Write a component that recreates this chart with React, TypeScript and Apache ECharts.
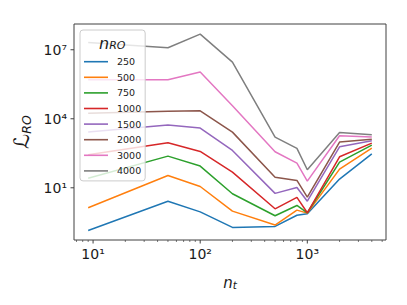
import React, { useEffect, useRef } from 'react';
import * as echarts from 'echarts';

const nt = [9, 50, 100, 200, 500, 800, 1000, 2000, 4000];
const nRO = ['250', '500', '750', '1000', '1500', '2000', '3000', '4000'];
const L250 = [0.14, 2.6, 0.9, 0.19, 0.21, 0.64, 0.74, 24, 300];
const L500 = [1.35, 34, 11.4, 0.97, 0.24, 1.07, 0.79, 65, 530];
const L750 = [26, 238, 88, 5.5, 0.61, 1.7, 0.82, 131, 716];
const L1000 = [272, 906, 380, 48, 1.22, 3.8, 0.82, 223, 875];
const L1500 = [2630, 5300, 3930, 420, 5.7, 10.3, 2.6, 607, 1100];
const L2000 = [17600, 21500, 22300, 2630, 29, 20.8, 3.9, 968, 1300];
const L3000 = [4.97e5, 4.97e5, 1.07e6, 36700, 367, 118, 19.5, 1820, 1600];
const L4000 = [2.08e7, 1.22e7, 4.8e7, 2.9e6, 1600, 513, 61, 2550, 2010];
const seriesValues = [L250, L500, L750, L1000, L1500, L2000, L3000, L4000];
const colors = ['#1f77b4', '#ff7f0e', '#2ca02c', '#d62728', '#9467bd', '#8c564b', '#e377c2', '#7f7f7f'];

const xMajorTicks = [10, 100, 1000];
const xMinorTicks = [7, 8, 9, 20, 30, 40, 50, 60, 70, 80, 90, 200, 300, 400, 500, 600, 700, 800, 900, 2000, 3000, 4000, 5000];
const yMajorTicks = [10, 1e4, 1e7];
const xMin = Math.pow(10, 0.8219);
const xMax = Math.pow(10, 3.7346);
const yMin = Math.pow(10, -1.27);
const yMax = Math.pow(10, 8.12);

const SUP: Record<string, string> = { '0': '⁰', '1': '¹', '2': '²', '3': '³', '4': '⁴', '5': '⁵', '6': '⁶', '7': '⁷', '8': '⁸', '9': '⁹', '-': '⁻' };
const powLabel = (v: number, allowed: number[]) => {
  const l = Math.log10(v);
  const e = Math.round(l);
  if (Math.abs(l - e) > 1e-6) return '';
  if (!allowed.some((a) => Math.abs(Math.log10(a) - e) < 1e-6)) return '';
  return '10' + String(e).split('').map((c) => SUP[c]).join('');
};

const FONT = 'DejaVu Sans';
const FRAME = '#404040';

export default function App() {
  const ref = useRef<HTMLDivElement>(null);
  useEffect(() => {
    if (!ref.current) return;
    document.body.style.margin = '0';
    const chart = echarts.init(ref.current, null, { renderer: 'svg' });
    const lineSeries = nRO.map((name, i) => ({
      name,
      type: 'line',
      data: nt.map((x, j) => [x, seriesValues[i][j]]),
      symbol: 'none',
      lineStyle: { color: colors[i], width: 1.5 },
      itemStyle: { color: colors[i] },
      z: 2,
    }));
    const xTickData = [
      ...xMajorTicks.map((v) => [v, 3.5]),
      ...xMinorTicks.map((v) => [v, 2]),
    ];
    const yTickData = yMajorTicks.map((v) => [3.5, v]);
    chart.setOption({
      animation: false,
      grid: { left: 74, top: 24, width: 312, height: 216, show: true, borderColor: FRAME, borderWidth: 1, backgroundColor: 'transparent' },
      xAxis: {
        type: 'log',
        min: xMin,
        max: xMax,
        splitNumber: 5,
        axisLine: { show: false },
        axisTick: { show: false },
        splitLine: { show: false },
        axisLabel: {
          formatter: (v: number) => powLabel(v, xMajorTicks),
          fontFamily: FONT,
          fontSize: 14,
          color: '#1a1a1a',
          margin: 7,
          showMinLabel: false,
          showMaxLabel: false,
        },
        name: '{n|n}{s|t}',
        nameLocation: 'middle',
        nameGap: 35,
        nameTextStyle: {
          rich: {
            n: { fontFamily: FONT, fontStyle: 'italic', fontSize: 15, color: '#1a1a1a' },
            s: { fontFamily: FONT, fontStyle: 'italic', fontSize: 10.5, color: '#1a1a1a', verticalAlign: 'bottom' },
          },
        },
      },
      yAxis: {
        type: 'log',
        min: yMin,
        max: yMax,
        splitNumber: 10,
        axisLine: { show: false },
        axisTick: { show: false },
        splitLine: { show: false },
        axisLabel: {
          formatter: (v: number) => powLabel(v, yMajorTicks),
          fontFamily: FONT,
          fontSize: 14,
          color: '#1a1a1a',
          margin: 7,
          showMinLabel: false,
          showMaxLabel: false,
        },
        name: '{l|ℒ}{s|RO}',
        nameLocation: 'middle',
        nameGap: 38,
        nameTextStyle: {
          rich: {
            l: { fontFamily: FONT, fontSize: 21, color: '#1a1a1a' },
            s: { fontFamily: FONT, fontStyle: 'italic', fontSize: 12.5, color: '#1a1a1a', verticalAlign: 'bottom' },
          },
        },
      },
      legend: {
        data: nRO,
        orient: 'vertical',
        left: 80,
        top: 30,
        padding: [25.7, 4, 4, 4],
        icon: 'rect',
        itemWidth: 24,
        itemHeight: 1.6,
        itemGap: 3.6,
        selectedMode: false,
        backgroundColor: 'rgba(255,255,255,0.8)',
        borderColor: '#cccccc',
        borderWidth: 1,
        borderRadius: 3,
        textStyle: { fontFamily: FONT, fontSize: 9.5, color: '#222', lineHeight: 12, padding: [0, 0, 0, 4] },
      },
      graphic: [
        {
          type: 'text',
          left: 99,
          top: 35,
          z: 100,
          style: {
            text: '{n|n}{s|RO}',
            rich: {
              n: { fontFamily: FONT, fontStyle: 'italic', fontSize: 16, fill: '#1a1a1a' },
              s: { fontFamily: FONT, fontStyle: 'italic', fontSize: 11, fill: '#1a1a1a', verticalAlign: 'bottom' },
            },
          },
        },
      ],
      series: [
        ...lineSeries,
        {
          type: 'custom',
          name: 'xticks',
          clip: false,
          silent: true,
          data: xTickData,
          renderItem: (params: any, api: any) => {
            const v = api.value(0);
            const len = api.value(1);
            const cs = params.coordSys;
            const px = api.coord([v, yMin])[0];
            const by = cs.y + cs.height;
            return { type: 'line', shape: { x1: px, y1: by, x2: px, y2: by + len }, style: { stroke: FRAME, lineWidth: len > 3 ? 1 : 0.7 } };
          },
        },
        {
          type: 'custom',
          name: 'yticks',
          clip: false,
          silent: true,
          data: yTickData,
          renderItem: (params: any, api: any) => {
            const len = api.value(0);
            const v = api.value(1);
            const cs = params.coordSys;
            const py = api.coord([xMin, v])[1];
            return { type: 'line', shape: { x1: cs.x - len, y1: py, x2: cs.x, y2: py }, style: { stroke: FRAME, lineWidth: 1 } };
          },
        },
      ],
    });
    return () => chart.dispose();
  }, []);
  return <div ref={ref} style={{ width: 407, height: 305 }} />;
}
